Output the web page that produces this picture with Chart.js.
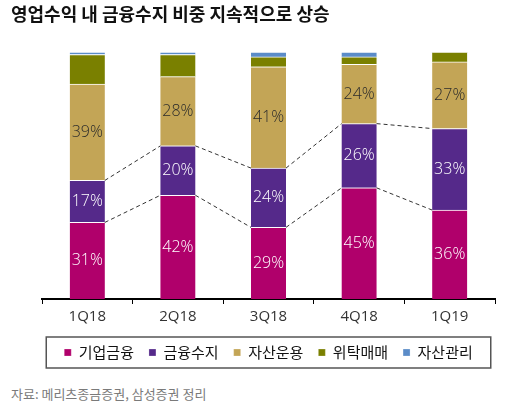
<!DOCTYPE html>
<html>
<head>
<meta charset="utf-8">
<script src="https://cdn.jsdelivr.net/npm/chart.js@4"></script>
<style>
  html, body { margin: 0; padding: 0; background: #fff; }
  body { width: 515px; height: 407px; position: relative; overflow: hidden; }
  #title {
    position: absolute; left: 11px; top: 0px;
    font: bold 18px "Noto Sans CJK KR", sans-serif; color: #111;
  }
  #source {
    position: absolute; left: 11px; top: 384px;
    font: 13px "Noto Sans CJK KR", sans-serif; color: #7a7a7a;
  }
  #wrap { position: absolute; left: 0; top: 0; width: 515px; height: 380px; }
</style>
</head>
<body>
<div id="wrap"><canvas id="chart"></canvas></div>
<div id="title">영업수익 내 금융수지 비중 지속적으로 상승</div>
<div id="source">자료: 메리츠종금증권, 삼성증권 정리</div>
<script>
// 분기
const quarters = ["1Q18", "2Q18", "3Q18", "4Q18", "1Q19"];

// 항목별 비중 (%)
const corporate = [31, 42, 29, 45, 36];   // 기업금융
const netInterest = [17, 20, 24, 26, 33]; // 금융수지
const assetOps = [39, 28, 41, 24, 27];    // 자산운용
const brokerage = [12, 9, 4, 3, 4];       // 위탁매매
const wealth = [1, 1, 2, 2, 0];           // 자산관리

const seriesNames = ["기업금융", "금융수지", "자산운용", "위탁매매", "자산관리"];
const seriesColors = ["#b0006b", "#55298a", "#c3a556", "#7a8000", "#5b8cc8"];
const seriesValues = [corporate, netInterest, assetOps, brokerage, wealth];

// 막대 안 라벨
const labelPlugin = {
    id: "segLabels",
    afterDatasetsDraw(chart) {
        const ctx = chart.ctx;
        ctx.save();
        ctx.font = "300 16px 'Open Sans', sans-serif";
        ctx.textAlign = "center";
        ctx.textBaseline = "middle";
        [0, 1, 2].forEach(d => {
            const meta = chart.getDatasetMeta(d);
            ctx.fillStyle = d === 2 ? "#2b2b2b" : "#ffffff";
            meta.data.forEach((bar, i) => {
                const v = chart.data.datasets[d].data[i];
                ctx.fillText(v + "%", bar.x, (bar.y + bar.base) / 2);
            });
        });
        ctx.restore();
    }
};

// 금융수지 구간 점선
const dashPlugin = {
    id: "dashLines",
    afterDatasetsDraw(chart) {
        const ctx = chart.ctx;
        ctx.save();
        ctx.strokeStyle = "#333";
        ctx.lineWidth = 1;
        ctx.setLineDash([4, 3]);
        [0, 1].forEach(d => {
            const bars = chart.getDatasetMeta(d).data;
            for (let i = 0; i < bars.length - 1; i++) {
                const a = bars[i], b = bars[i + 1];
                ctx.beginPath();
                ctx.moveTo(a.x + a.width / 2, a.y);
                ctx.lineTo(b.x - b.width / 2, b.y);
                ctx.stroke();
            }
        });
        ctx.restore();
    }
};

// 범례 테두리
const legendBox = {
    id: "legendBox",
    afterDraw(chart) {
        const hb = chart.legend.legendHitBoxes;
        if (!hb || !hb.length) return;
        const first = hb[0], last = hb[hb.length - 1];
        const ctx = chart.ctx;
        ctx.save();
        ctx.strokeStyle = "#555";
        ctx.lineWidth = 1.5;
        const top = first.top - 8;
        ctx.strokeRect(first.left - 18, top, last.left + last.width - first.left + 36, 31);
        ctx.restore();
    }
};

new Chart(document.getElementById("chart"), {
    type: "bar",
    data: {
        labels: quarters,
        datasets: seriesValues.map((vals, k) => ({
            label: seriesNames[k],
            data: vals,
            backgroundColor: seriesColors[k],
            borderColor: "#ffffff",
            borderWidth: { top: 1, left: 0, right: 0, bottom: 0 },
            borderSkipped: false,
            barThickness: 35
        }))
    },
    options: {
        responsive: true,
        maintainAspectRatio: false,
        animation: false,
        layout: { padding: { left: 42, right: 20, top: 52, bottom: 10 } },
        scales: {
            x: {
                stacked: true,
                border: { display: true, color: "#000", width: 2 },
                grid: { display: true, drawOnChartArea: false, drawTicks: true, tickLength: 5, color: "#000" },
                ticks: { color: "#333", font: { family: "'Open Sans', sans-serif", size: 15 }, padding: 4 }
            },
            y: { stacked: true, min: 0, max: 100, display: false }
        },
        plugins: {
            legend: {
                position: "bottom",
                labels: {
                    boxWidth: 7, boxHeight: 7, padding: 15,
                    color: "#111",
                    font: { family: "'Noto Sans CJK KR', sans-serif", size: 15 }
                }
            },
            tooltip: { enabled: false }
        }
    },
    plugins: [labelPlugin, dashPlugin, legendBox]
});
</script>
</body>
</html>
